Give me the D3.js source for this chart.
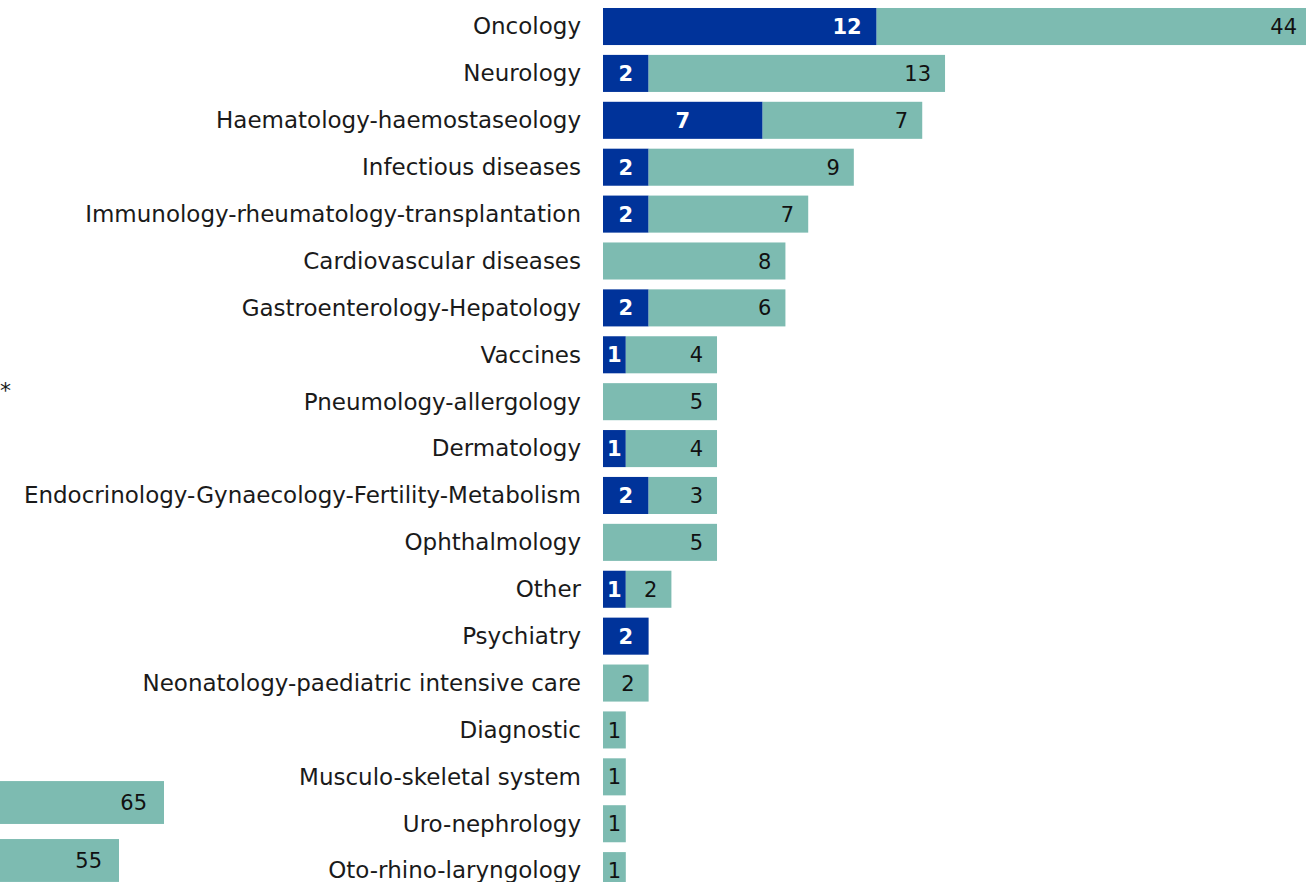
<!DOCTYPE html>
<html>
<head>
<meta charset="utf-8">
<script src="https://cdn.jsdelivr.net/npm/d3@7"></script>
<style>
  html, body { margin: 0; padding: 0; background: #fff; }
  svg { display: block; font-family: 'DejaVu Sans', Verdana, sans-serif; }
</style>
</head>
<body>
<svg id="chart"></svg>
<script>
const width = 1306
const height = 882

// therapeutic areas, top to bottom
const categories = [
  'Oncology', 'Neurology', 'Haematology-haemostaseology', 'Infectious diseases',
  'Immunology-rheumatology-transplantation', 'Cardiovascular diseases',
  'Gastroenterology-Hepatology', 'Vaccines', 'Pneumology-allergology', 'Dermatology',
  'Endocrinology-Gynaecology-Fertility-Metabolism', 'Ophthalmology', 'Other',
  'Psychiatry', 'Neonatology-paediatric intensive care', 'Diagnostic',
  'Musculo-skeletal system', 'Uro-nephrology', 'Oto-rhino-laryngology',
]
const darkValues = [12, 2, 7, 2, 2, 0, 2, 1, 0, 1, 2, 0, 1, 2, 0, 0, 0, 0, 0]
const tealValues = [44, 13, 7, 9, 7, 8, 6, 4, 5, 4, 3, 5, 2, 0, 2, 1, 1, 1, 1]

// left panel (cut off in the picture), only its last two bars show
const leftValues = [65, 55]

const DARK = '#00339a'
const TEAL = '#7dbbb1'

const svg = d3.select('#chart').attr('width', width).attr('height', height)

const x = d3.scaleLinear().domain([0, 30.83]).range([603, width]).clamp(true)
const y = d3.scaleBand().domain(categories).range([-1.85, 899]).padding(0.21)

const rows = categories.map((c, i) => ({ c, dark: darkValues[i], teal: tealValues[i] }))

const g = svg.append('g')

// category labels
g.selectAll('text.cat').data(rows).join('text')
  .attr('class', 'cat')
  .attr('x', 581)
  .attr('y', (d) => y(d.c) + y.bandwidth() / 2)
  .attr('dy', '0.34em')
  .attr('text-anchor', 'end')
  .attr('font-size', 23)
  .attr('fill', '#1a1a1a')
  .text((d) => d.c)

// dark segments
const darkRows = rows.filter((d) => d.dark > 0)
g.selectAll('rect.dark').data(darkRows).join('rect')
  .attr('class', 'dark')
  .attr('x', x(0))
  .attr('y', (d) => y(d.c))
  .attr('width', (d) => x(d.dark) - x(0))
  .attr('height', y.bandwidth())
  .attr('fill', DARK)

// teal segments
const tealRows = rows.filter((d) => d.teal > 0)
g.selectAll('rect.teal').data(tealRows).join('rect')
  .attr('class', 'teal')
  .attr('x', (d) => x(d.dark))
  .attr('y', (d) => y(d.c))
  .attr('width', (d) => x(d.dark + d.teal) - x(d.dark))
  .attr('height', y.bandwidth())
  .attr('fill', TEAL)

const pad = 14

g.selectAll('text.dval').data(darkRows).join('text')
  .attr('class', 'dval')
  .attr('y', (d) => y(d.c) + y.bandwidth() / 2)
  .attr('dy', '0.36em')
  .attr('font-size', 21)
  .attr('font-weight', 'bold')
  .attr('fill', '#fff')
  .text((d) => d.dark)
  .each(function (d) {
    const w = x(d.dark) - x(0)
    const el = d3.select(this)
    if (w > 200) el.attr('text-anchor', 'end').attr('x', x(d.dark) - pad - 1)
    else el.attr('text-anchor', 'middle').attr('x', x(0) + w / 2)
  })

g.selectAll('text.tval').data(tealRows).join('text')
  .attr('class', 'tval')
  .attr('y', (d) => y(d.c) + y.bandwidth() / 2)
  .attr('dy', '0.36em')
  .attr('font-size', 21)
  .attr('fill', '#111')
  .text((d) => d.teal)
  .each(function (d) {
    const x0 = x(d.dark)
    const x1 = x(d.dark + d.teal)
    const el = d3.select(this)
    const tw = this.getComputedTextLength()
    const edgePad = x1 >= width ? 9 : pad
    if (tw + 2 * pad <= x1 - x0) el.attr('text-anchor', 'end').attr('x', x1 - edgePad)
    else el.attr('text-anchor', 'middle').attr('x', (x0 + x1) / 2)
  })

// left panel, mostly outside the frame
const xl = d3.scaleLinear().domain([0, 65]).range([-128.5, 164])
const yl = d3.scaleBand().domain(d3.range(leftValues.length)).range([766, 897]).padding(0.26)

svg.append('g').selectAll('rect').data(leftValues).join('rect')
  .attr('x', xl(0))
  .attr('y', (d, i) => yl(i))
  .attr('width', (d) => xl(d) - xl(0))
  .attr('height', yl.bandwidth())
  .attr('fill', TEAL)

svg.append('g').selectAll('text').data(leftValues).join('text')
  .attr('x', (d) => xl(d) - 17)
  .attr('y', (d, i) => yl(i) + yl.bandwidth() / 2)
  .attr('dy', '0.36em')
  .attr('text-anchor', 'end')
  .attr('font-size', 21)
  .attr('fill', '#111')
  .text((d) => d)

svg.append('text')
  .attr('x', 0)
  .attr('y', 390)
  .attr('dy', '0.36em')
  .attr('font-size', 22)
  .attr('fill', '#1a1a1a')
  .text('*')
</script>
</body>
</html>
